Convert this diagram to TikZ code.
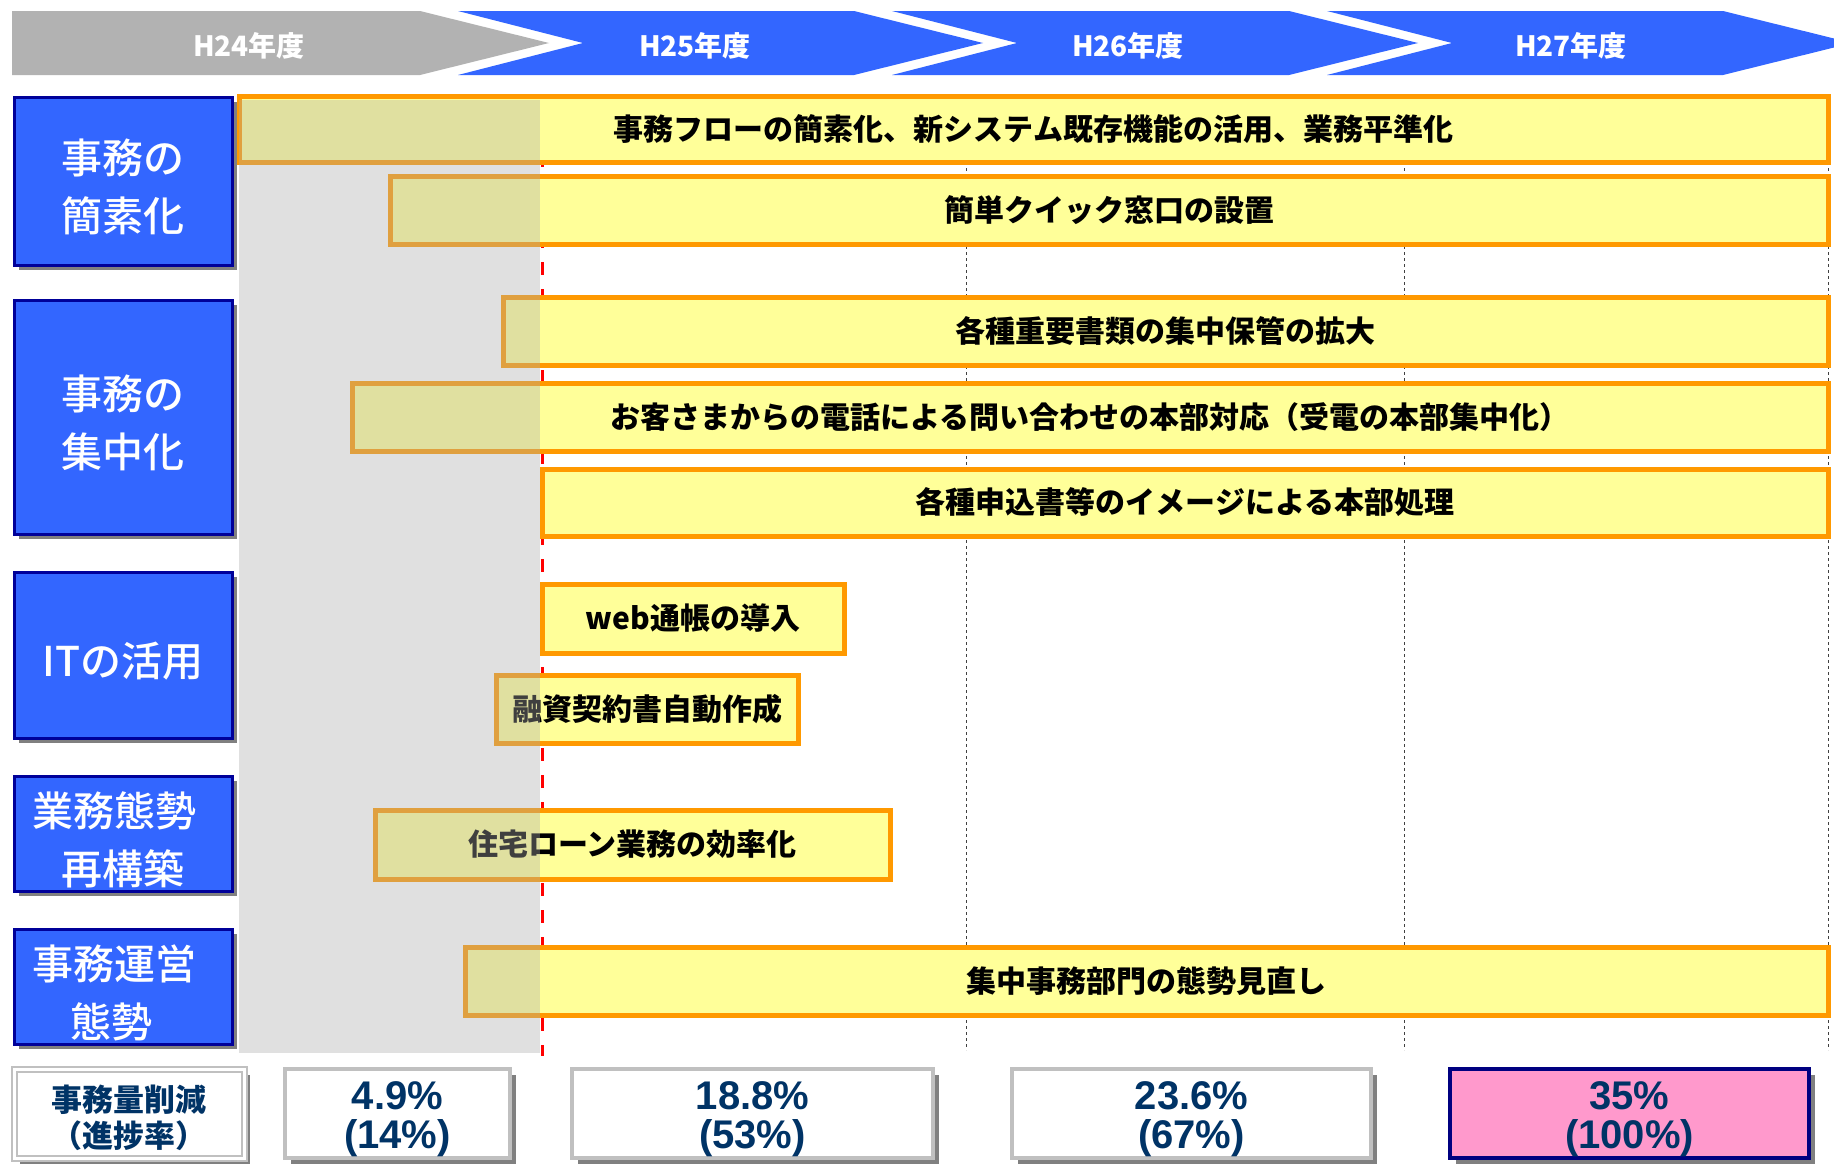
\documentclass[tikz,border=0pt]{standalone}
\usepackage{fontspec}
\setmainfont{Noto Sans CJK JP}
\newfontfamily\numfont{Liberation Sans}
\newfontfamily\catfont{Noto Sans CJK JP Medium}
\usetikzlibrary{shadows}
\definecolor{hgray}{HTML}{B2B2B2}
\definecolor{hblue}{HTML}{3366FF}
\definecolor{catborder}{HTML}{000099}
\definecolor{barfill}{HTML}{FFFF99}
\definecolor{barline}{HTML}{FF9900}
\definecolor{navytext}{HTML}{003366}
\definecolor{shadowgray}{HTML}{808080}
\definecolor{pboxline}{HTML}{C0C0C0}
\definecolor{pinkfill}{HTML}{FF99CC}
\definecolor{pinkline}{HTML}{000080}
\definecolor{overlaygray}{HTML}{ADADAD}
\definecolor{gridgray}{HTML}{404040}
\newcommand\mkbox[7]{\node[#1,anchor=north west,inner sep=0pt,outer sep=0pt,minimum width={#4-#2-4},minimum height={#5-#3-4}] (#6) at ({#2+2},{#3+2}) {#7};}
\begin{document}
\begin{tikzpicture}[x=1pt,y=-1pt,
  headtext/.style={text=white,font=\fontsize{28}{30}\selectfont\bfseries},
  catbox/.style={draw=catborder,line width=3pt,fill=hblue,
     drop shadow={shadow xshift=5pt,shadow yshift=-5pt,fill=shadowgray,opacity=1}},
  cattext/.style={text=white,align=center,font=\catfont\fontsize{41}{58}\selectfont},
  barbox/.style={draw=barline,line width=5pt,fill=barfill,text=black,
     font=\fontsize{30}{34}\selectfont\bfseries},
  pbox/.style={draw=pboxline,line width=4pt,fill=white,
     drop shadow={shadow xshift=6pt,shadow yshift=-6pt,fill=shadowgray,opacity=1}},
  ptext/.style={text=navytext,align=center,font=\numfont\fontsize{40}{39}\selectfont\bfseries},
  pinkbox/.style={pbox,draw=pinkline,fill=pinkfill},
  gridline/.style={draw=gridgray,line width=1pt,dash pattern=on 3pt off 3pt},
  redline/.style={draw=red,line width=3pt,dash pattern=on 13pt off 14pt}]
\useasboundingbox (0,0) rectangle (1834,1167);
\fill[white] (0,0) rectangle (1834,1167);

% header chevrons
\fill[hgray] (12,11) -- (420,11) -- (549,43) -- (420,75) -- (12,75) -- cycle;
\fill[hblue] (458,11) -- (854,11) -- (983,43) -- (854,75) -- (458,75) -- (583,43) -- cycle;
\fill[hblue] (892,11) -- (1289,11) -- (1418,43) -- (1289,75) -- (892,75) -- (1017,43) -- cycle;
\fill[hblue] (1327,11) -- (1723,11) -- (1834,38.5) -- (1834,47.5) -- (1723,75) -- (1327,75) -- (1452,43) -- cycle;
\node[headtext] (h24) at (249,46) {H24年度};
\node[headtext] (h25) at (695,46) {H25年度};
\node[headtext] (h26) at (1128,46) {H26年度};
\node[headtext] (h27) at (1571,46) {H27年度};

% category boxes
\mkbox{catbox}{12}{95}{234}{267}{c1}{}
\mkbox{catbox}{12}{298}{234}{536}{c2}{}
\mkbox{catbox}{12}{570}{234}{740}{c3}{}
\mkbox{catbox}{12}{774}{234}{893}{c4}{}
\mkbox{catbox}{12}{927}{234}{1046}{c5}{}
\node[cattext] (c1t) at ([yshift=-6pt]c1.center) {事務の\\簡素化};
\node[cattext] (c2t) at ([yshift=-6pt]c2.center) {事務の\\集中化};
\node[cattext] (c3t) at ([yshift=-6pt]c3.center) {ITの活用};
\node[cattext] (c4t) at ([yshift=-6pt]c4.center) {\hspace*{-18pt}業務態勢\\再構築};
\node[cattext] (c5t) at ([yshift=-6pt]c5.center) {\hspace*{-18pt}事務運営\\\hspace*{-24pt}態勢};

% grid lines
\coordinate (g1t) at (966,96);  \coordinate (g1b) at (966,1050);
\coordinate (g2t) at (1404,96); \coordinate (g2b) at (1404,1050);
\coordinate (g3t) at (1828,96); \coordinate (g3b) at (1828,1050);
\draw[gridline] (g1t) -- (g1b);
\draw[gridline] (g2t) -- (g2b);
\draw[gridline] (g3t) -- (g3b);
\coordinate (rt) at (542,100); \coordinate (rb) at (542,1056);
\draw[redline] (rt) -- (rb);

% bars
\mkbox{barbox}{237}{94}{1830}{164}{b1}{事務フローの簡素化、新システム既存機能の活用、業務平準化}
\mkbox{barbox}{388}{174}{1830}{246}{b2}{簡単クイック窓口の設置}
\mkbox{barbox}{501}{295}{1830}{367}{b3}{各種重要書類の集中保管の拡大}
\mkbox{barbox}{350}{381}{1830}{453}{b4}{お客さまからの電話による問い合わせの本部対応（受電の本部集中化）}
\mkbox{barbox}{540}{467}{1830}{538}{b5}{各種申込書等のイメージによる本部処理}
\mkbox{barbox}{540}{582}{846}{655}{b6}{web通帳の導入}
\mkbox{barbox}{494}{673}{800}{745}{b7}{融資契約書自動作成}
\mkbox{barbox}{373}{808}{892}{881}{b8}{住宅ローン業務の効率化}
\mkbox{barbox}{463}{945}{1830}{1017}{b9}{集中事務部門の態勢見直し}

% past period overlay
\fill[overlaygray,opacity=0.37] (239,100) rectangle (540,1053);

% percent boxes
\mkbox{pbox,line width=2pt,double=white,double distance=3pt}{12}{1067}{246}{1160}{pa}{}
\mkbox{pbox}{283}{1067}{512}{1160}{pb}{}
\mkbox{pbox}{570}{1067}{935}{1160}{pc}{}
\mkbox{pbox}{1010}{1067}{1373}{1160}{pd}{}
\mkbox{pinkbox}{1448}{1067}{1811}{1160}{pe}{}
\node[ptext,font=\fontsize{31}{36}\selectfont\bfseries] (pat) at ([yshift=-4pt]pa.center) {事務量削減\\（進捗率）};
\node[ptext] (pbt) at ([yshift=-6pt]pb.center) {4.9\%\\(14\%)};
\node[ptext] (pct) at ([yshift=-6pt]pc.center) {18.8\%\\(53\%)};
\node[ptext] (pdt) at ([yshift=-6pt]pd.center) {23.6\%\\(67\%)};
\node[ptext] (pet) at ([yshift=-6pt]pe.center) {35\%\\(100\%)};
\end{tikzpicture}
\end{document}
